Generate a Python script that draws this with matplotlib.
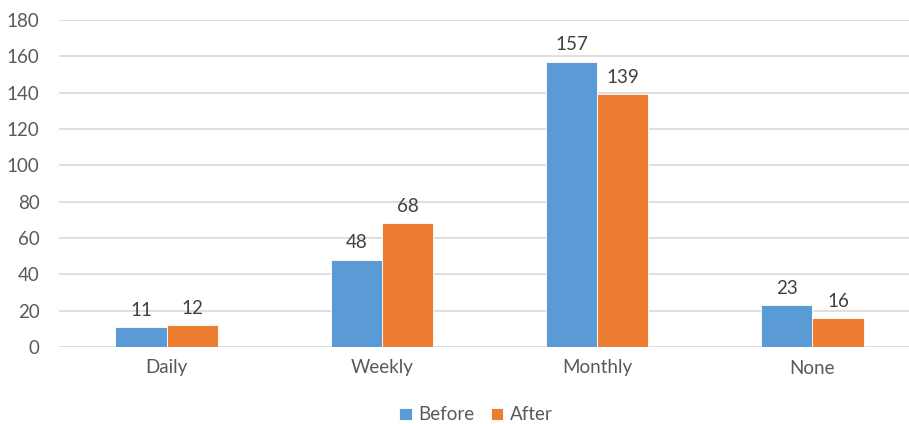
import matplotlib
matplotlib.use("Agg")
import matplotlib.pyplot as plt
import numpy as np

categories = ["Daily", "Weekly", "Monthly", "None"]
before = [11, 48, 157, 23]
after = [12, 68, 139, 16]

plt.rcParams["font.family"] = ["Lato", "DejaVu Sans"]
text_color = "#595959"
fs = 13.5

W, H = 909, 424
fig = plt.figure(figsize=(W / 100, H / 100), dpi=100)
ax = fig.add_axes([59 / W, 1 - 347 / H, 850 / W, 327 / H])

x = np.arange(len(categories))
bw = 0.238
b1 = ax.bar(x - bw / 2, before, bw, color="#5B9BD5", edgecolor="white",
            linewidth=0.6, label="Before", zorder=3)
b2 = ax.bar(x + bw / 2, after, bw, color="#ED7D31", edgecolor="white",
            linewidth=0.6, label="After", zorder=3)

for bars in (b1, b2):
    ax.bar_label(bars, padding=6, fontsize=fs, color="#404040")

ax.set_ylim(0, 180)
ax.set_yticks(range(0, 181, 20))
ax.set_xlim(-0.5, 3.449)
ax.set_xticks(x)
ax.set_xticklabels(categories)
ax.tick_params(axis="both", length=0, labelsize=fs, colors=text_color)
ax.tick_params(axis="x", pad=9)
ax.tick_params(axis="y", pad=14)
ax.grid(axis="y", color="#D9D9D9", linewidth=1.2, zorder=0)
for s in ax.spines.values():
    s.set_visible(False)

fig.legend(loc="center", bbox_to_anchor=(476 / W, 1 - 415 / H), ncol=2,
           frameon=False, fontsize=fs, handlelength=0.65, handleheight=0.65,
           handletextpad=0.35, columnspacing=0.9, labelcolor=text_color)

fig.savefig("out.png", dpi=100)
